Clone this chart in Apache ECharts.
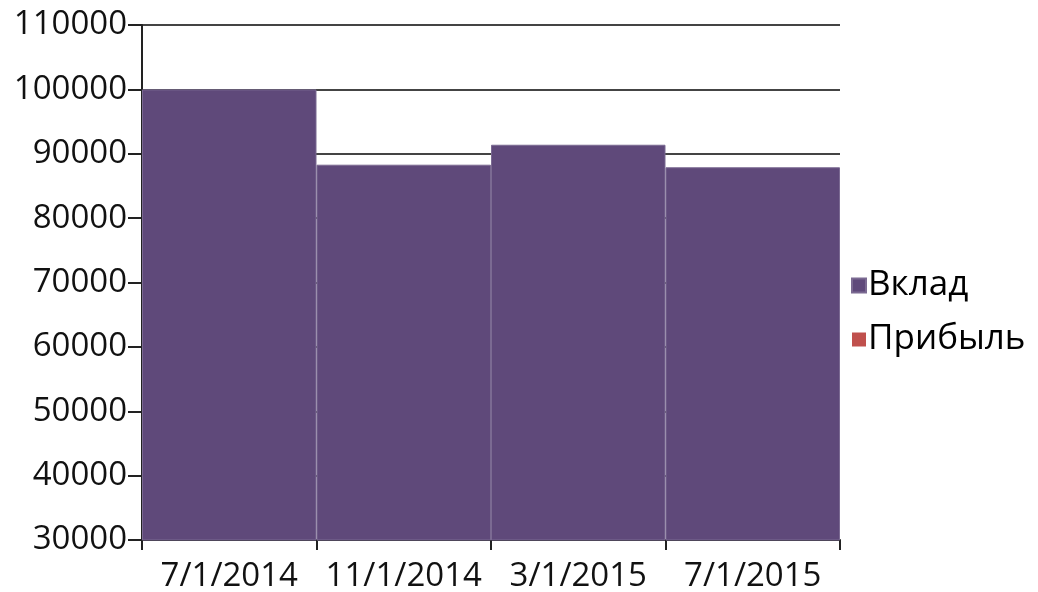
<!DOCTYPE html>
<html><head><meta charset="utf-8">
<script src="https://cdn.jsdelivr.net/npm/echarts@6/dist/echarts.min.js"></script>
<style>html,body{margin:0;padding:0;background:#fff}#c{width:1038px;height:592px}</style>
</head><body><div id="c"></div>
<script>
const categories = ['7/1/2014', '11/1/2014', '3/1/2015', '7/1/2015'];
const vklad = [100000, 88300, 91400, 87900];
const pribyl = [0, 0, 0, 0];
const yMin = 30000, yMax = 110000, yStep = 10000;

const FONT = '"Open Sans", sans-serif';
const chart = echarts.init(document.getElementById('c'), null, {renderer: 'canvas'});
chart.setOption({
  animation: false,
  backgroundColor: '#fff',
  grid: {left: 142, right: 198, top: 25, bottom: 52, outerBoundsMode: 'none', containLabel: false},
  legend: {
    orient: 'vertical', left: 846, top: 263,
    itemWidth: 14, itemHeight: 14, itemGap: 19,
    icon: 'rect',
    textStyle: {fontFamily: FONT, fontSize: 35, color: '#000', padding: [0, 0, 0, -3]},
    data: ['Вклад', 'Прибыль']
  },
  xAxis: {
    type: 'category', data: categories, boundaryGap: true,
    axisLine: {lineStyle: {color: '#222', width: 2}},
    axisTick: {show: true, length: 10, interval: 0, lineStyle: {color: '#222', width: 2}},
    axisLabel: {fontFamily: FONT, fontSize: 33, color: '#111', margin: 20, interval: 0}
  },
  yAxis: {
    type: 'value', min: yMin, max: yMax, interval: yStep,
    axisLine: {show: true, lineStyle: {color: '#222', width: 2}},
    axisTick: {show: true, length: 14, lineStyle: {color: '#222', width: 2}},
    axisLabel: {fontFamily: FONT, fontSize: 33, color: '#111', margin: 15,
      formatter: v => String(v)},
    splitLine: {show: true, lineStyle: {color: '#444', width: 2}}
  },
  series: [
    {name: 'Вклад', type: 'bar', stack: 's', data: vklad, barCategoryGap: '0%',
     itemStyle: {color: '#5F497A', borderColor: '#7B6A92', borderWidth: 1}},
    {name: 'Прибыль', type: 'bar', stack: 's', data: pribyl, barCategoryGap: '0%',
     itemStyle: {color: '#C0504D'}}
  ]
});
</script></body></html>
